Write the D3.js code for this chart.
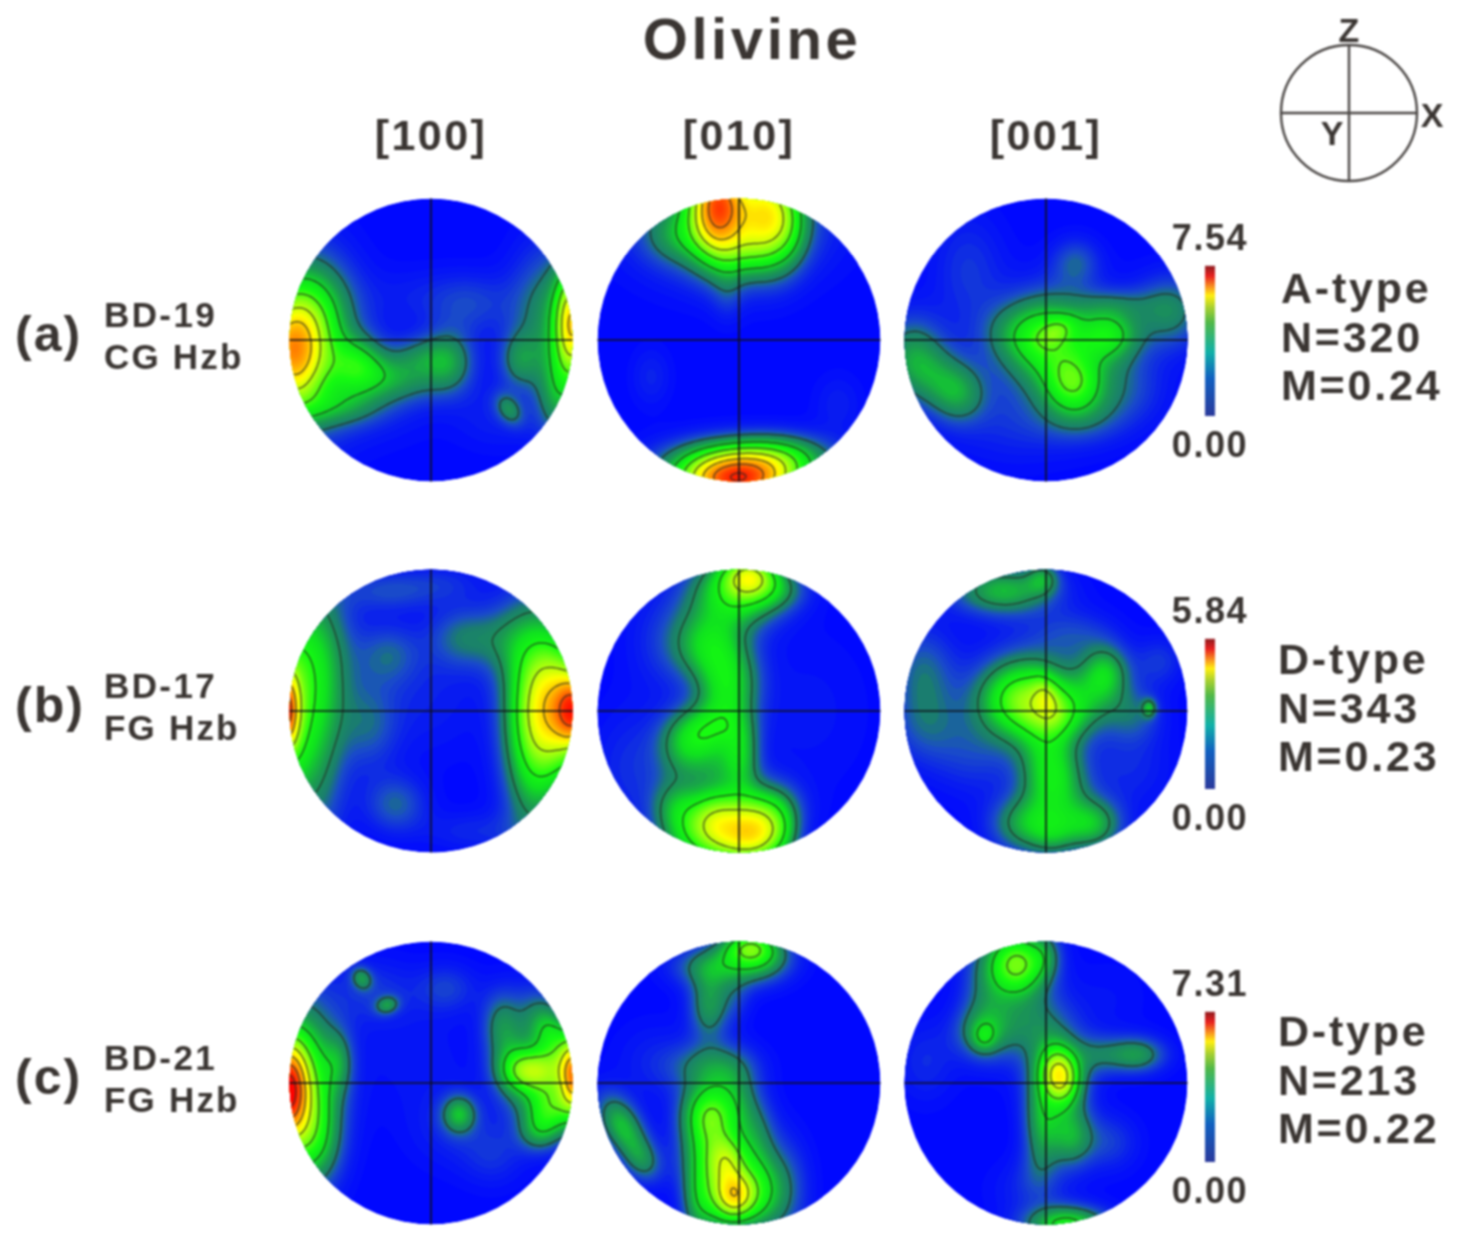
<!DOCTYPE html>
<html lang="en">
<head>
<meta charset="UTF-8">
<title>Olivine pole figures</title>
<script src="https://d3js.org/d3.v7.min.js"></script>
<style>
  html, body { margin: 0; background: #fff; }
  svg { display: block; filter: blur(0.9px); }
  text { font-family: "Liberation Sans", Arial, sans-serif; font-weight: 700; fill: #3a3532; }
</style>
</head>
<body>
<script>
const width = 1460;
const height = 1243;

const columnLabels = ["[100]", "[010]", "[001]"];
const rowTags = ["(a)", "(b)", "(c)"];
const sampleIds = ["BD-19", "BD-17", "BD-21"];
const rockTypes = ["CG Hzb", "FG Hzb", "FG Hzb"];
const fabricTypes = ["A-type", "D-type", "D-type"];
const grainCounts = ["N=320", "N=343", "N=213"];
const mIndexes = ["M=0.24", "M=0.23", "M=0.22"];
const maxDensity = [7.54, 5.84, 7.31];

// density lobes: x, y (unit disc), density, spread x, spread y, tilt deg
const a100 = [
  [-0.98,-0.09,3.7,0.15,0.26,0], [-0.92,-0.03,2.0,0.25,0.42,0], [-0.52,-0.17,1.6,0.14,0.14,0],
  [-0.25,-0.27,1.2,0.22,0.12,0], [0.13,-0.15,1.3,0.13,0.16,0], [-0.08,-0.1,0.7,0.14,0.1,0],
  [0.3,0.25,0.5,0.2,0.15,0], [1.0,0.13,3.4,0.08,0.25,0], [0.97,0.02,1.8,0.17,0.42,0],
  [0.62,-0.14,1.05,0.1,0.14,0], [0.55,-0.49,1.02,0.06,0.09,35], [0.45,-0.55,0.3,0.2,0.16,0],
  [-0.8,0.2,0.9,0.18,0.25,0], [-0.65,-0.47,0.8,0.22,0.1,0], [0.88,-0.4,0.7,0.09,0.2,0],
  [-0.05,0.3,0.3,0.3,0.15,0], [0.7,0.25,0.5,0.14,0.3,0], [-0.4,-0.45,0.3,0.3,0.2,0]
];
const a010 = [
  [-0.15,0.97,4.8,0.13,0.25,0], [0.2,0.9,3.0,0.14,0.25,0], [-0.08,0.83,2.0,0.4,0.26,0],
  [0.35,0.8,0.7,0.1,0.2,0], [-0.45,0.72,0.5,0.15,0.12,0], [0.03,0.62,0.6,0.14,0.12,0],
  [-0.02,-1.0,6.0,0.28,0.13,0], [0.08,-0.85,2.1,0.38,0.12,0], [0.3,-0.8,0.6,0.2,0.1,0],
  [-0.62,-0.26,0.35,0.1,0.15,0], [-0.08,0.35,0.4,0.08,0.15,0], [0.7,-0.45,0.3,0.12,0.15,0]
];
const a001 = [
  [0.08,0.07,0.75,0.1,0.06,30], [0.19,-0.31,1.85,0.14,0.14,0], [0.0,0.02,1.65,0.19,0.2,0],
  [0.45,0.04,1.7,0.15,0.13,0], [0.12,-0.1,1.1,0.32,0.3,0], [-0.25,0.05,0.6,0.17,0.15,0],
  [0.88,0.2,1.15,0.17,0.18,0], [0.5,0.26,0.5,0.2,0.08,0], [0.21,0.55,0.75,0.12,0.12,0],
  [-0.95,-0.1,1.25,0.16,0.2,0], [-0.62,-0.38,1.25,0.14,0.15,0], [-0.8,-0.25,0.75,0.16,0.16,0],
  [-0.55,0.5,0.5,0.18,0.28,0], [0.55,-0.35,0.55,0.2,0.18,0], [0.25,-0.55,0.6,0.2,0.13,0],
  [-0.25,-0.6,0.35,0.3,0.2,0]
];
const b100 = [
  [1.02,0.0,2.8,0.09,0.16,0], [0.92,0.02,2.7,0.19,0.33,0], [0.76,0.08,1.3,0.16,0.5,0],
  [0.7,-0.35,0.7,0.14,0.5,0],
  [-1.03,0.0,3.4,0.06,0.18,0], [-1.0,-0.05,1.4,0.1,0.42,0], [-0.85,0.4,1.1,0.2,0.4,0],
  [-0.82,-0.2,1.05,0.15,0.55,0], [-0.3,0.4,0.55,0.15,0.15,0], [-0.25,-0.66,0.65,0.15,0.14,0],
  [0.25,0.52,0.75,0.18,0.15,0], [-0.43,-0.1,0.55,0.14,0.22,0], [0.55,0.5,0.5,0.14,0.2,0],
  [-0.3,0.85,0.5,0.22,0.1,0], [0.1,0.9,0.3,0.2,0.1,0], [-0.05,0.1,0.25,0.3,0.3,0], [0.3,-0.85,0.3,0.25,0.1,0]
];
const b010 = [
  [0.08,0.96,1.9,0.13,0.1,0], [0.05,0.85,1.5,0.2,0.16,0], [-0.15,0.82,0.7,0.2,0.2,0], [0.3,0.85,0.5,0.14,0.1,0],
  [-0.2,0.46,1.3,0.18,0.17,0], [-0.07,0.2,1.3,0.15,0.17,0], [-0.2,-0.14,1.25,0.17,0.13,0],
  [-0.38,-0.27,1.05,0.14,0.17,0], [0.02,-0.3,1.0,0.09,0.18,0], [-0.1,0.0,0.5,0.14,0.14,0],
  [-0.12,-0.4,0.65,0.14,0.12,0],
  [-0.05,-0.9,1.7,0.16,0.15,0], [0.14,-0.88,1.6,0.12,0.14,0], [-0.03,-0.85,0.8,0.2,0.2,0],
  [-0.18,-0.72,1.2,0.13,0.14,0], [0.15,-0.68,1.1,0.18,0.14,0], [-0.35,-0.88,1.2,0.16,0.16,0],
  [0.3,-0.85,0.9,0.1,0.16,0], [-0.45,-0.66,0.8,0.12,0.13,0],
  [-0.5,0.5,0.35,0.2,0.25,0], [0.5,0.0,0.15,0.3,0.4,0], [-0.75,-0.4,0.35,0.2,0.3,0]
];
const b001 = [
  [-0.17,0.08,1.5,0.2,0.17,0], [0.0,0.11,0.65,0.06,0.1,15], [0.05,-0.05,0.8,0.14,0.12,0],
  [-0.1,0.08,1.1,0.28,0.26,0], [0.42,0.27,1.3,0.12,0.14,0], [0.25,0.05,0.7,0.17,0.15,0],
  [0.06,-0.54,1.4,0.16,0.17,0], [0.02,-0.3,0.8,0.14,0.15,0], [0.32,-0.8,1.35,0.15,0.13,0],
  [-0.15,-0.8,1.15,0.17,0.14,0], [0.05,-0.88,0.7,0.12,0.12,0],
  [-0.3,0.85,1.35,0.25,0.12,0], [-0.02,0.94,0.8,0.08,0.08,0], [0.73,0.02,1.03,0.035,0.045,0],
  [0.62,-0.02,0.6,0.14,0.14,0], [-0.87,0.29,0.65,0.16,0.22,0], [-0.85,-0.1,0.55,0.18,0.2,0],
  [0.8,0.35,0.4,0.12,0.12,0], [0.2,0.55,0.4,0.2,0.12,0], [-0.52,-0.32,0.35,0.2,0.2,0], [0.6,-0.4,0.3,0.2,0.2,0]
];
const c100 = [
  [-1.02,-0.05,4.6,0.09,0.22,0], [-0.96,-0.06,2.4,0.16,0.36,0], [-0.85,0.0,1.1,0.18,0.42,0],
  [-0.82,-0.42,1.0,0.13,0.22,0],
  [1.02,0.05,4.4,0.07,0.18,0], [0.72,0.09,2.5,0.14,0.1,0], [0.87,0.3,2.2,0.11,0.22,25],
  [0.85,-0.16,2.6,0.13,0.15,0], [0.5,0.42,1.05,0.1,0.17,0], [0.6,0.1,1.2,0.12,0.2,0],
  [0.2,-0.22,1.5,0.085,0.095,0], [0.12,-0.32,0.3,0.2,0.2,0],
  [-0.49,0.74,1.08,0.05,0.06,30], [-0.31,0.55,1.08,0.06,0.045,15], [-0.4,0.65,0.45,0.2,0.16,0],
  [0.11,0.67,0.55,0.15,0.12,0], [0.44,-0.5,0.45,0.16,0.16,0], [-0.65,0.15,0.8,0.07,0.15,0],
  [0.75,-0.35,0.9,0.1,0.1,0], [-0.1,0.2,0.2,0.3,0.3,0]
];
const c010 = [
  [0.08,0.97,2.0,0.13,0.08,0], [0.04,0.85,1.2,0.2,0.12,0], [-0.21,0.55,1.35,0.1,0.17,0],
  [-0.25,0.82,0.8,0.18,0.1,0], [-0.02,0.6,0.4,0.08,0.12,0], [0.17,0.88,0.7,0.15,0.1,0],
  [-0.03,-0.8,2.3,0.09,0.11,0], [-0.08,-0.55,1.5,0.09,0.12,0], [-0.22,-0.2,2.1,0.13,0.15,0],
  [-0.19,-0.48,2.0,0.15,0.2,0], [0.1,-0.78,1.9,0.12,0.18,0], [-0.14,-0.82,1.7,0.12,0.18,0],
  [-0.19,0.12,1.1,0.2,0.12,0], [-0.02,-0.1,0.9,0.11,0.18,0], [0.12,-0.38,0.9,0.1,0.2,0],
  [0.3,-0.75,0.95,0.13,0.25,0], [-0.3,-0.85,0.9,0.08,0.2,0],
  [-0.83,-0.3,1.7,0.1,0.17,30], [-0.68,-0.55,1.0,0.09,0.12,30], [-0.6,0.15,0.3,0.2,0.2,0]
];
const c001 = [
  [0.1,0.05,2.9,0.09,0.13,10], [0.08,0.05,1.5,0.15,0.21,0],
  [-0.2,0.84,1.6,0.13,0.14,0], [-0.2,0.85,1.4,0.16,0.19,0], [-0.44,0.32,0.7,0.06,0.07,0],
  [-0.45,0.36,1.0,0.14,0.13,0], [-0.42,0.65,0.8,0.13,0.28,0], [-0.1,0.42,0.95,0.2,0.18,0],
  [0.65,0.2,1.3,0.14,0.09,0], [0.38,0.2,0.75,0.14,0.1,0], [0.18,-0.38,1.4,0.11,0.15,0],
  [-0.03,-0.28,1.25,0.09,0.2,0], [0.15,-1.0,2.2,0.2,0.09,0], [0.45,-0.42,0.55,0.14,0.14,0],
  [0.0,0.9,0.7,0.08,0.12,0], [-0.85,0.15,0.4,0.15,0.2,0], [-0.05,-0.6,0.4,0.1,0.15,0],
  [0.45,0.6,0.15,0.2,0.2,0], [-0.1,-0.75,0.35,0.2,0.15,0]
];
const figureLobes = [[a100, a010, a001], [b100, b010, b001], [c100, c010, c001]];

const densityStops = [0, 0.04, 0.09, 0.13, 0.19, 0.27, 0.34, 0.46, 0.6, 0.75, 0.9, 1];
const densityColors = ["#0008ff", "#0a20ee", "#1a4cc8", "#1a7c70", "#1a9a50", "#10e020",
                       "#14fb10", "#90ff10", "#ffff00", "#ff9a00", "#ff3000", "#ff0000"];
const barStops = [0, 0.25, 0.42, 0.62, 0.72, 0.8, 0.86, 0.93, 1];
const barColors = ["#2a3a9c", "#1060c0", "#10b0a8", "#50b848", "#a8d030", "#ffee10", "#f89020", "#e82020", "#8c1c20"];

const columnX = [431, 739, 1046];
const rowY = [340, 711, 1083];
const barTop = [266, 639, 1012];
const radius = 141.5;
const gridSize = 150;
const gridExtent = 1.03;

const color = d3.scaleLinear().domain(densityStops).range(densityColors).clamp(true);
const barColor = d3.scaleLinear().domain(barStops).range(barColors);

const posX = d3.scaleLinear().domain([-1, 1]).range([-radius, radius]);
const posY = d3.scaleLinear().domain([-1, 1]).range([radius, -radius]);
const gridX = d3.scaleLinear().domain([0, gridSize]).range([-gridExtent, gridExtent]);
const gridY = d3.scaleLinear().domain([0, gridSize]).range([gridExtent, -gridExtent]);

const path = d3.geoPath(d3.geoTransform({
  point(x, y) { this.stream.point(posX(gridX(x)), posY(gridY(y))); }
}));

function densityAt(lobes, x, y) {
  return d3.sum(lobes, ([px, py, v, sx, sy, tilt]) => {
    const a = tilt * Math.PI / 180;
    const dx = x - px, dy = y - py;
    const u = dx * Math.cos(a) + dy * Math.sin(a);
    const w = -dx * Math.sin(a) + dy * Math.cos(a);
    return v * Math.exp(-(u * u) / (2 * sx * sx) - (w * w) / (2 * sy * sy));
  });
}

const svg = d3.select("body").append("svg").attr("width", width).attr("height", height);

function label(x, y, str, size, anchor, spacing) {
  return svg.append("text").attr("x", x).attr("y", y).attr("font-size", size)
    .attr("text-anchor", anchor || "start").attr("letter-spacing", spacing || 0).text(str);
}

label(752, 59, "Olivine", 58, "middle", 3.6);
columnLabels.forEach((c, i) => label(columnX[i], 150, c, 43, "middle", 2.4));

figureLobes.forEach((row, r) => {
  const maxV = maxDensity[r];
  const bands = d3.range(0.01, 1.0001, 1 / 90).map(t => t * maxV);
  const levels = d3.range(1, Math.floor(maxV) + 1);

  row.forEach((lobes, c) => {
    const values = new Array(gridSize * gridSize);
    for (let j = 0; j < gridSize; j++) {
      for (let i = 0; i < gridSize; i++) {
        values[j * gridSize + i] = densityAt(lobes, gridX(i + 0.5), gridY(j + 0.5));
      }
    }
    const contours = d3.contours().size([gridSize, gridSize]);
    const id = "clip-" + r + "-" + c;
    svg.append("clipPath").attr("id", id).append("circle").attr("r", radius);

    const g = svg.append("g").attr("transform", "translate(" + [columnX[c], rowY[r]] + ")");
    const inner = g.append("g").attr("clip-path", "url(#" + id + ")");
    inner.append("circle").attr("r", radius).attr("fill", color(0));

    inner.append("g").selectAll("path")
      .data(contours.thresholds(bands)(values)).enter()
      .append("path")
      .attr("d", path)
      .attr("fill", d => color(d.value / maxV));

    inner.append("g").selectAll("path")
      .data(contours.thresholds(levels)(values)).enter()
      .append("path")
      .attr("d", path)
      .attr("fill", "none")
      .attr("stroke", "#262a22")
      .attr("stroke-opacity", 0.7)
      .attr("stroke-width", 1.5);

    g.append("line").attr("x1", posX(-1)).attr("x2", posX(1)).attr("y1", 0).attr("y2", 0)
      .attr("stroke", "#101018").attr("stroke-width", 1.6);
    g.append("line").attr("y1", posY(-1)).attr("y2", posY(1)).attr("x1", 0).attr("x2", 0)
      .attr("stroke", "#101018").attr("stroke-width", 1.6);
  });

  const y0 = rowY[r];
  label(15, y0 + 11, rowTags[r], 50, "start", 2);
  label(104, y0 - 13, sampleIds[r], 35, "start", 2.4);
  label(104, y0 + 29, rockTypes[r], 35, "start", 2.2);

  const bar = d3.scaleLinear().domain([0, 1]).range([barTop[r] + 150, barTop[r]]);
  svg.append("g").selectAll("rect")
    .data(d3.range(0, 1, 1 / 150)).enter()
    .append("rect")
    .attr("x", 1205).attr("width", 10)
    .attr("y", d => bar(d) - 1.2)
    .attr("height", 1.2)
    .attr("fill", d => barColor(d));

  label(1210, barTop[r] - 16, maxDensity[r].toFixed(2), 36, "middle", 1.6);
  label(1210, barTop[r] + 191, (0).toFixed(2), 36, "middle", 1.6);

  const textX = r === 0 ? 1281 : 1278;
  label(textX, y0 - 37, fabricTypes[r], 43, "start", 2.8);
  label(textX, y0 + 12, grainCounts[r], 43, "start", 2.8);
  label(textX, y0 + 60, mIndexes[r], 43, "start", 2.8);
});

// reference frame key
const key = svg.append("g").attr("transform", "translate(1349,113)")
  .attr("fill", "none").attr("stroke", "#4a4644").attr("stroke-width", 2.4);
key.append("circle").attr("r", 68);
key.append("line").attr("x1", -68).attr("x2", 68);
key.append("line").attr("y1", -68).attr("y2", 68);
label(1349, 42, "Z", 34, "middle");
label(1432, 127, "X", 34, "middle");
label(1332, 145, "Y", 34, "middle");
</script>
</body>
</html>
